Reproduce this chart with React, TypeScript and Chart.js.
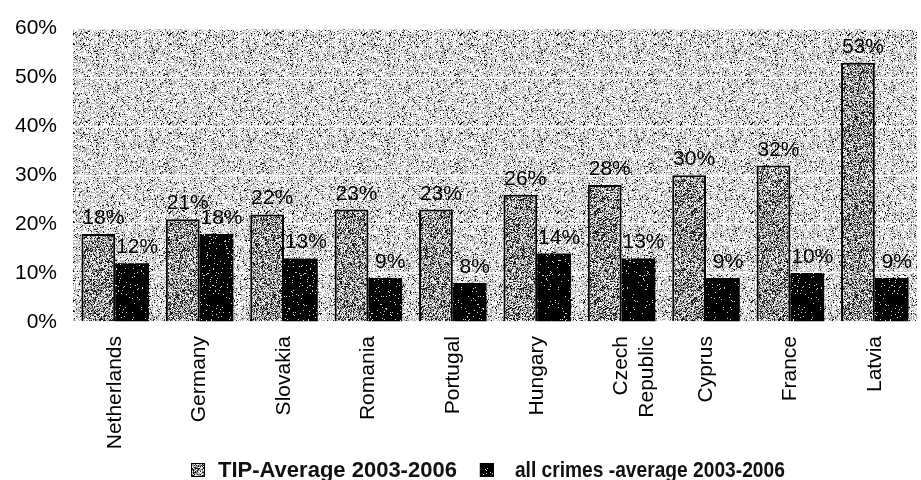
import React, { useEffect, useRef } from "react";
import { Chart, registerables } from "chart.js";

Chart.register(...registerables);

const countries: (string | string[])[] = [
  "Netherlands",
  "Germany",
  "Slovakia",
  "Romania",
  "Portugal",
  "Hungary",
  ["Czech", "Republic"],
  "Cyprus",
  "France",
  "Latvia",
];

const tipAverage = [18, 21, 22, 23, 23, 26, 28, 30, 32, 53];
const allCrimesAverage = [12, 18, 13, 9, 8, 14, 13, 9, 10, 9];

const seriesNames = ["TIP-Average 2003-2006", "all crimes -average 2003-2006"];
const yTicks = [0, 10, 20, 30, 40, 50, 60];

const FONT = '"Liberation Sans", Arial, Helvetica, sans-serif';

// Integer hash for a repeatable halftone-like stipple
function hash(x: number, y: number, seed: number): number {
  let h = (Math.imul(x, 374761393) + Math.imul(y, 668265263) + Math.imul(seed, 1442695041)) | 0;
  h = Math.imul(h ^ (h >>> 13), 1274126177);
  h ^= h >>> 16;
  return (h >>> 0) / 4294967296;
}

// Builds a stipple pattern: levels are [threshold, grey] pairs
function stipple(seed: number, levels: [number, number][], w = 97, h = 89): CanvasPattern | string {
  const c = document.createElement("canvas");
  c.width = w;
  c.height = h;
  const ctx = c.getContext("2d");
  if (!ctx) return "#999";
  const img = ctx.createImageData(w, h);
  for (let y = 0; y < h; y++) {
    for (let x = 0; x < w; x++) {
      const r = hash(x, y, seed);
      let g = levels[levels.length - 1][1];
      for (const [t, v] of levels) {
        if (r < t) {
          g = v;
          break;
        }
      }
      const i = (y * w + x) * 4;
      img.data[i] = g;
      img.data[i + 1] = g;
      img.data[i + 2] = g;
      img.data[i + 3] = 255;
    }
  }
  ctx.putImageData(img, 0, 0);
  const p = ctx.createPattern(c, "repeat");
  return p || "#999";
}

export default function App() {
  const canvasRef = useRef<HTMLCanvasElement | null>(null);

  useEffect(() => {
    document.body.style.margin = "0";
    const canvas = canvasRef.current;
    if (!canvas) return;

    const plotFill = stipple(7, [
      [0.08, 20],
      [0.44, 175],
      [1, 250],
    ]);
    const greyFill = stipple(13, [
      [0.3, 25],
      [0.65, 150],
      [1, 240],
    ]);
    const blackFill = stipple(29, [
      [0.965, 0],
      [1, 215],
    ]);

    const plotBackground = {
      id: "plotBackground",
      beforeDraw(chart: any) {
        const { ctx, chartArea } = chart;
        ctx.save();
        ctx.fillStyle = plotFill;
        ctx.fillRect(chartArea.left, chartArea.top, chartArea.right - chartArea.left, chartArea.bottom - chartArea.top);
        ctx.restore();
      },
    };

    const valueLabels = {
      id: "valueLabels",
      afterDatasetsDraw(chart: any) {
        const { ctx } = chart;
        ctx.save();
        ctx.font = `21px ${FONT}`;
        ctx.fillStyle = "#000";
        ctx.textAlign = "center";
        ctx.textBaseline = "alphabetic";
        chart.data.datasets.forEach((ds: any, i: number) => {
          const meta = chart.getDatasetMeta(i);
          meta.data.forEach((bar: any, j: number) => {
            ctx.fillText(`${ds.data[j]}%`, bar.x + 5, bar.y - 10);
          });
        });
        ctx.restore();
      },
    };

    // Legend row under the axis labels
    const bottomLegend = {
      id: "bottomLegend",
      afterDraw(chart: any) {
        const { ctx } = chart;
        const fills = [greyFill, blackFill];
        const box = 14;
        const boxGap = [13, 21];
        const textWidth = [242, 270];
        const itemGap = 23;
        const cy = 470;
        ctx.save();
        ctx.font = `bold 22px ${FONT}`;
        let x = 191;
        seriesNames.forEach((name, i) => {
          ctx.fillStyle = fills[i];
          ctx.fillRect(x, cy - box / 2, box, box);
          ctx.strokeStyle = "#000";
          ctx.lineWidth = 1;
          ctx.strokeRect(x + 0.5, cy - box / 2 + 0.5, box - 1, box - 1);
          x += box + boxGap[i];
          ctx.fillStyle = "#111";
          ctx.textAlign = "left";
          ctx.textBaseline = "middle";
          ctx.fillText(name, x, cy + 1, textWidth[i]);
          x += Math.min(ctx.measureText(name).width, textWidth[i]) + itemGap;
        });
        ctx.restore();
      },
    };

    const chart = new Chart(canvas, {
      type: "bar",
      data: {
        labels: countries,
        datasets: [
          {
            label: seriesNames[0],
            data: tipAverage,
            backgroundColor: greyFill as any,
            borderColor: "#000",
            borderWidth: 2,
          },
          {
            label: seriesNames[1],
            data: allCrimesAverage,
            backgroundColor: blackFill as any,
            borderWidth: 0,
          },
        ],
      },
      options: {
        responsive: false,
        animation: false,
        devicePixelRatio: 1,
        layout: { padding: { left: 0, right: 4, top: 28, bottom: 0 } },
        datasets: {
          bar: { categoryPercentage: 0.8, barPercentage: 1.0 },
        },
        scales: {
          x: {
            grid: { display: false, drawTicks: false },
            border: { display: false },
            ticks: {
              minRotation: 90,
              maxRotation: 90,
              autoSkip: false,
              padding: 14,
              color: "#000",
              font: { family: FONT, size: 21 },
            },
            afterFit(scale: any) {
              scale.height = 158;
            },
          },
          y: {
            min: 0,
            max: 60,
            afterBuildTicks(scale: any) {
              scale.ticks = yTicks.map((v) => ({ value: v }));
            },
            afterFit(scale: any) {
              scale.width = 73;
            },
            grid: { color: "rgba(255,255,255,0.9)", lineWidth: 1.5, drawTicks: false },
            border: { display: false },
            ticks: {
              padding: 16,
              color: "#000",
              font: { family: FONT, size: 21 },
              callback: (v: any) => `${v}%`,
            },
          },
        },
        plugins: {
          legend: { display: false },
          tooltip: { enabled: false },
        },
      },
      plugins: [plotBackground, valueLabels, bottomLegend],
    });

    return () => chart.destroy();
  }, []);

  return (
    <div style={{ width: 921, height: 480, background: "#fff" }}>
      <canvas ref={canvasRef} width={921} height={480} />
    </div>
  );
}
